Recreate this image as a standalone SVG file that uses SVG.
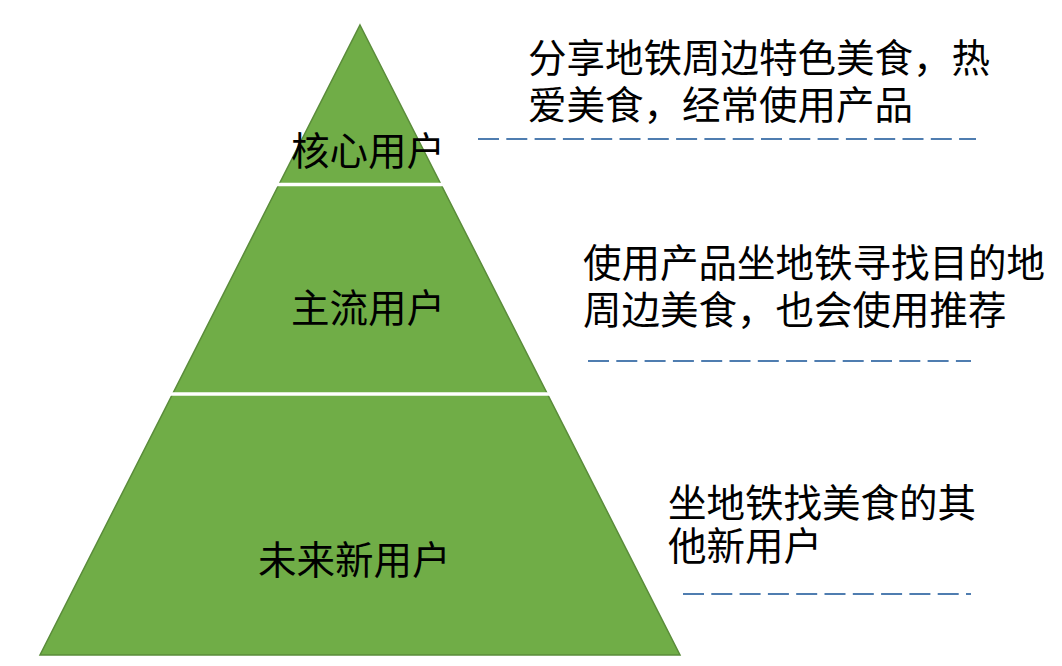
<svg xmlns="http://www.w3.org/2000/svg" width="1062" height="666" viewBox="0 0 1062 666">
<style>
.tier{fill:#70AD47;stroke:#5A8C3A;stroke-width:1.5}
.sep{stroke:#FFFFFF;stroke-width:3.5}
.lbl{font-family:"Noto Sans CJK SC","Liberation Sans",sans-serif;font-size:38.5px;fill:#000}
.desc{font-family:"Noto Sans CJK SC","Liberation Sans",sans-serif;font-size:38.5px;fill:#000}
.dash{stroke:#4F7DB0;stroke-width:2;stroke-dasharray:21 7.3;fill:none}
</style>
<rect width="1062" height="666" fill="#FFFFFF"/>
<g id="pyramid">
<polygon class="tier" points="360,25 680,655 40,655"/>
<line class="sep" x1="276" y1="184.5" x2="444" y2="184.5"/>
<line class="sep" x1="170" y1="394" x2="550" y2="394"/>
</g>
<g id="core">
<text class="lbl" x="291" y="165">核心用户</text>
</g>
<g id="mainstream">
<text class="lbl" x="291" y="322">主流用户</text>
</g>
<g id="future">
<text class="lbl" x="258" y="574">未来新用户</text>
</g>
<g id="desc-core">
<text class="desc" x="528" y="72">分享地铁周边特色美食，热<tspan x="528" y="119">爱美食，经常使用产品</tspan></text>
</g>
<g id="desc-mainstream">
<text class="desc" x="583" y="277">使用产品坐地铁寻找目的地<tspan x="583" y="324">周边美食，也会使用推荐</tspan></text>
</g>
<g id="desc-future">
<text class="desc" x="668" y="517">坐地铁找美食的其<tspan x="668" y="560">他新用户</tspan></text>
</g>
<g id="connectors">
<line class="dash" x1="478" y1="139" x2="976" y2="139"/>
<line class="dash" x1="588" y1="361" x2="971" y2="361"/>
<line class="dash" x1="683" y1="594" x2="971" y2="594"/>
</g>
</svg>
